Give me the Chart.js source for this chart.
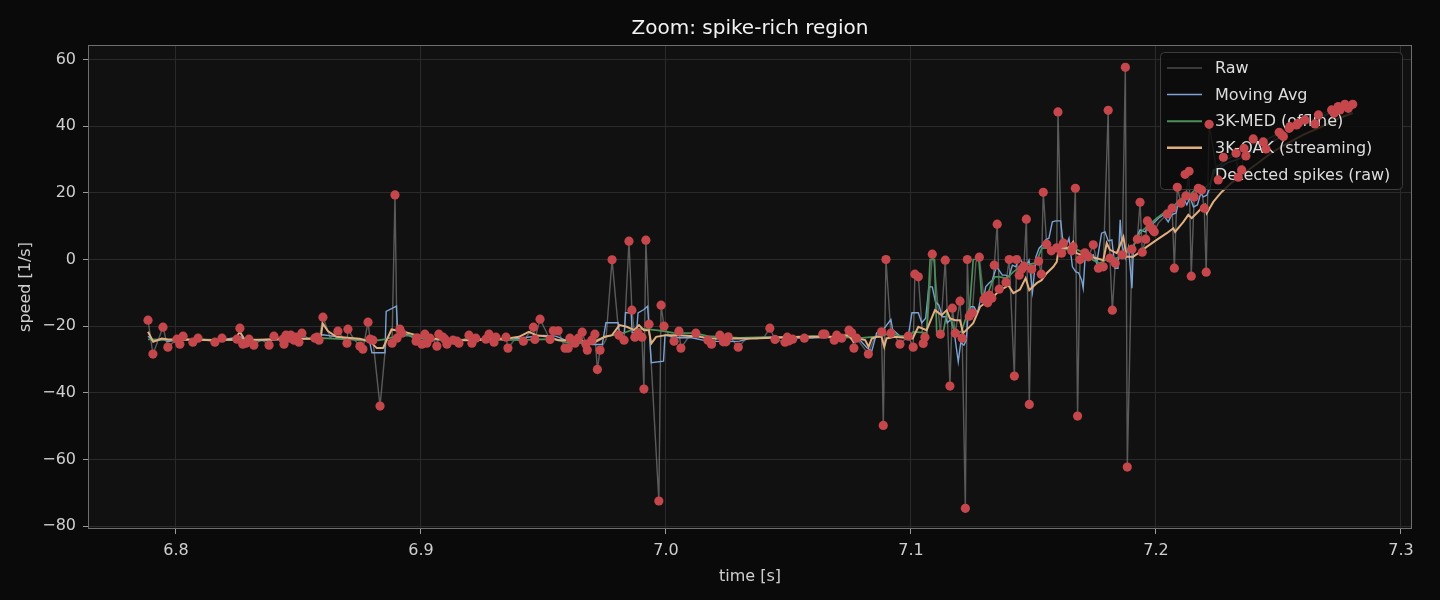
<!DOCTYPE html>
<html>
<head>
<meta charset="utf-8">
<script src="https://cdn.jsdelivr.net/npm/chart.js@4.4.1/dist/chart.umd.min.js"></script>
<style>
  html, body { margin: 0; padding: 0; background: #0a0a0a; }
  canvas { display: block; }
</style>
</head>
<body>
<canvas id="zoomChart" width="1440" height="600"></canvas>
<script>
// Zoom: spike-rich region

const xTicks = [6.8, 6.9, 7.0, 7.1, 7.2, 7.3];
const yTicks = [-80, -60, -40, -20, 0, 20, 40, 60];

// detected spikes (raw samples flagged) [time s, speed 1/s]
const spikePts = [
  [6.7886,-18.2],[6.7906,-28.4],[6.7947,-20.3],[6.7967,-26.3],[6.8004,-23.9],[6.8016,-25.4],[6.8029,-23.0],
  [6.8069,-24.8],[6.8090,-23.6],[6.8159,-24.8],[6.8188,-23.6],[6.8249,-23.9],[6.8261,-20.6],[6.8273,-25.4],
  [6.8286,-25.1],[6.8298,-23.9],[6.8318,-25.7],[6.8380,-25.7],[6.8400,-23.0],[6.8437,-23.9],[6.8441,-25.4],
  [6.8449,-22.7],[6.8461,-23.6],[6.8469,-22.7],[6.8482,-24.2],[6.8490,-23.3],[6.8502,-24.8],[6.8514,-22.1],
  [6.8567,-23.6],[6.8576,-23.3],[6.8584,-24.2],[6.8600,-17.3],[6.8661,-21.5],[6.8698,-25.1],[6.8702,-20.9],
  [6.8751,-26.0],[6.8763,-26.9],[6.8784,-18.8],[6.8792,-23.9],[6.8804,-24.2],[6.8833,-44.0],[6.8882,-25.1],
  [6.8894,19.4],[6.8902,-23.6],[6.8914,-20.9],[6.8922,-22.1],[6.8980,-24.5],[6.8984,-23.5],[6.9004,-25.4],
  [6.9016,-22.4],[6.9024,-25.1],[6.9037,-23.6],[6.9065,-26.0],[6.9073,-22.4],[6.9090,-23.3],[6.9098,-23.9],
  [6.9106,-25.4],[6.9131,-24.2],[6.9147,-24.5],[6.9155,-25.1],[6.9196,-22.7],[6.9208,-25.1],[6.9224,-23.6],
  [6.9265,-23.9],[6.9278,-22.4],[6.9298,-24.8],[6.9306,-23.3],[6.9347,-23.3],[6.9355,-26.6],
  [6.9418,-24.5],[6.9459,-20.3],[6.9465,-24.0],[6.9486,-17.9],[6.9527,-24.0],[6.9540,-21.4],[6.9560,-21.4],
  [6.9588,-26.6],[6.9601,-26.6],[6.9608,-23.6],[6.9629,-25.1],[6.9642,-23.6],[6.9658,-21.8],[6.9673,-25.4],
  [6.9679,-27.2],[6.9697,-24.2],[6.9710,-22.4],[6.9720,-33.0],[6.9731,-27.2],[6.9780,-0.1],[6.9808,-22.7],
  [6.9829,-24.2],[6.9849,5.5],[6.9861,-15.2],[6.9873,-23.3],[6.9886,-22.1],[6.9902,-23.3],[6.9910,-38.9],
  [6.9918,5.8],[6.9931,-19.4],[6.9971,-72.5],[6.9980,-13.7],[6.9992,-20.0],[7.0033,-24.5],[7.0053,-21.5],
  [7.0061,-26.6],[7.0122,-22.1],[7.0171,-24.2],
  [7.0186,-25.4],[7.0220,-22.7],[7.0234,-24.7],[7.0245,-24.7],[7.0254,-23.2],[7.0295,-26.3],[7.0424,-20.6],
  [7.0445,-24.0],[7.0486,-24.8],[7.0495,-23.3],[7.0503,-24.4],[7.0517,-23.9],[7.0565,-23.6],[7.0640,-22.4],
  [7.0649,-22.4],[7.0687,-24.2],[7.0697,-22.7],[7.0717,-23.6],[7.0747,-21.2],[7.0758,-22.0],[7.0767,-26.6],
  [7.0778,-23.6],[7.0826,-28.4],[7.0880,-21.7],[7.0887,-49.8],[7.0898,0.0],[7.0918,-22.1],[7.0955,-25.4],
  [7.0989,-23.0],[7.1009,-26.3],[7.1016,-4.4],[7.1030,-5.2],[7.1050,-25.2],[7.1057,-23.3],[7.1087,1.6],
  [7.1120,-22.4],[7.1140,-0.2],[7.1159,-38.0],[7.1169,-14.6],[7.1181,-22.1],[7.1200,-12.5],[7.1209,-23.6],
  [7.1222,-74.7],[7.1230,0.0],[7.1238,-17.0],[7.1250,-16.0],[7.1279,0.7],[7.1298,-11.9],[7.1306,-11.2],
  [7.1313,-13.0],[7.1320,-10.7],[7.1330,-11.6],[7.1340,-1.7],[7.1352,10.6],[7.1360,-8.9],[7.1388,-6.8],
  [7.1401,0.0],[7.1422,-35.0],[7.1431,0.0],[7.1442,-4.7],[7.1452,-2.9],[7.1461,-2.0],[7.1471,12.1],
  [7.1483,-43.5],[7.1493,-2.9],[7.1521,-0.5],[7.1532,-4.4],[7.1540,20.2],[7.1554,4.6],[7.1573,2.6],
  [7.1595,3.5],[7.1600,44.3],[7.1615,1.9],[7.1622,4.9],[7.1656,2.6],[7.1662,3.8],[7.1671,21.4],
  [7.1680,-47.0],[7.1690,0.0],
  [7.1710,2.0],[7.1724,0.8],[7.1744,4.4],[7.1765,-2.6],[7.1785,-2.2],[7.1805,44.8],[7.1812,0.4],
  [7.1822,-15.2],[7.1834,-1.1],[7.1862,1.4],[7.1875,57.7],[7.1883,-62.3],[7.1902,3.1],[7.1924,6.1],
  [7.1935,17.2],[7.1944,2.2],[7.1958,6.1],[7.1965,11.6],[7.1976,9.8],[7.1985,9.2],[7.1993,8.3],
  [7.2046,13.7],[7.2066,15.4],[7.2075,-2.6],[7.2087,21.7],[7.2102,16.9],[7.2122,19.1],[7.2135,26.5],
  [7.2144,-5.0],[7.2156,18.8],[7.2173,21.4],[7.2186,20.9],[7.2197,15.4],[7.2205,-3.8],[7.2217,40.6],
  [7.2254,23.9],[7.2275,30.7],[7.2327,31.9],[7.2336,24.7],[7.2350,26.9],[7.2359,33.4],[7.2367,31.1],
  [7.2397,36.2],[7.2438,35.3],[7.2449,33.2],[7.2503,38.2],[7.2513,37.4],[7.2520,36.9],[7.2544,39.4],
  [7.2547,39.9],[7.2574,40.4],[7.2581,40.9],[7.2608,41.9],[7.2649,40.7],[7.2663,43.4],[7.2717,44.9],
  [7.2727,43.9],[7.2744,45.9],[7.2751,44.9],[7.2771,46.6],[7.2785,45.4],[7.2803,46.6]
];

// raw samples that were not flagged
const rawBaseline = [
  [6.8120,-24.1],[6.8220,-24.0],[6.8350,-24.0],[6.8540,-23.8],[6.8630,-23.5],[6.8725,-23.8],[6.8858,-24.0],
  [6.8950,-22.5],[6.9050,-24.0],[6.9175,-24.0],[6.9245,-24.0],[6.9325,-23.8],[6.9385,-23.8],[6.9755,-24.0],
  [7.0010,-22.5],[7.0090,-23.5],[7.0145,-23.0],[7.0270,-24.0],[7.0330,-23.5],[7.0370,-23.8],[7.0400,-23.4],
  [7.0540,-23.4],[7.0600,-23.6],[7.0850,-23.5],[7.0935,-23.0],[7.1065,-22.0],[7.1095,-1.0],[7.1265,-0.8],
  [7.2010,11.0],[7.2030,12.5]
];

const movingAvg = [
  [6.7886,-23.0],[6.7906,-24.5],[6.7947,-24.0],[6.7967,-24.6],[6.8004,-24.2],[6.8030,-24.0],[6.8100,-24.2],
  [6.8200,-24.0],[6.8261,-23.2],[6.8290,-24.4],[6.8350,-24.3],[6.8440,-24.0],[6.8500,-23.8],[6.8560,-23.6],
  [6.8600,-22.6],[6.8640,-23.0],[6.8700,-23.8],[6.8760,-24.2],[6.8790,-24.5],[6.8800,-28.0],[6.8853,-28.0],
  [6.8858,-15.6],[6.8900,-14.0],[6.8905,-22.0],[6.8930,-22.3],[6.8980,-23.5],[6.9050,-24.0],[6.9150,-24.2],
  [6.9250,-23.8],[6.9350,-24.2],[6.9450,-23.2],[6.9500,-22.8],[6.9550,-23.0],[6.9600,-24.5],[6.9650,-25.0],
  [6.9700,-25.5],[6.9740,-25.5],[6.9755,-19.0],[6.9805,-19.0],[6.9810,-22.0],[6.9830,-22.0],[6.9835,-16.0],
  [6.9858,-16.0],[6.9862,-22.0],[6.9880,-22.0],[6.9886,-16.0],[6.9910,-15.0],[6.9925,-14.0],[6.9940,-31.0],
  [6.9990,-30.5],[6.9996,-22.7],[7.0050,-23.5],[7.0100,-23.4],[7.0170,-24.5],[7.0250,-24.6],[7.0300,-24.5],
  [7.0350,-23.6],[7.0450,-23.2],[7.0550,-23.6],[7.0650,-23.4],[7.0720,-23.4],[7.0760,-23.0],[7.0790,-24.0],
  [7.0820,-26.5],[7.0840,-27.5],[7.0860,-22.0],[7.0880,-21.7],[7.0918,-18.0],[7.0925,-21.0],[7.0955,-23.0],
  [7.0989,-23.0],[7.1004,-16.0],[7.1030,-16.0],[7.1044,-19.0],[7.1060,-17.6],[7.1073,-8.2],[7.1087,-8.2],
  [7.1100,-12.7],[7.1114,-13.7],[7.1128,-17.2],[7.1141,-17.2],[7.1148,-19.0],[7.1162,-18.0],[7.1175,-21.0],
  [7.1193,-30.7],[7.1203,-25.0],[7.1216,-25.7],[7.1226,-24.2],[7.1234,-15.7],[7.1244,-14.2],[7.1257,-14.2],
  [7.1271,-16.1],[7.1285,-11.6],[7.1298,-11.2],[7.1305,-8.2],[7.1318,-7.1],[7.1332,-6.2],[7.1349,-2.2],
  [7.1359,-3.2],[7.1373,-4.7],[7.1386,-4.7],[7.1400,-5.2],[7.1414,-1.7],[7.1428,-2.2],[7.1441,0.8],
  [7.1455,-1.1],[7.1469,-2.2],[7.1482,-0.2],[7.1496,-9.7],[7.1510,0.8],[7.1523,3.4],[7.1537,4.4],
  [7.1550,5.9],[7.1563,6.4],[7.1577,11.3],[7.1591,11.6],[7.1611,11.6],[7.1618,6.8],[7.1632,3.8],
  [7.1645,6.4],[7.1659,-2.2],[7.1673,-3.7],[7.1684,-4.0],[7.1697,-6.2],[7.1703,-8.6],[7.1710,-0.2],
  [7.1744,1.4],[7.1758,-1.1],[7.1778,7.9],[7.1792,8.3],[7.1805,5.6],[7.1820,5.9],[7.1833,-2.6],
  [7.1845,-2.6],[7.1854,11.9],[7.1860,4.9],[7.1875,0.4],[7.1888,3.8],[7.1902,-8.6],[7.1908,3.8],
  [7.1922,6.8],[7.1935,8.9],[7.1956,8.3],[7.1969,10.4],[7.1990,10.9],[7.2010,12.4],[7.2030,13.4],
  [7.2050,11.3],[7.2064,13.4],[7.2082,14.0],[7.2091,16.9],[7.2112,18.4],[7.2126,16.4],[7.2139,18.8],
  [7.2153,15.8],[7.2169,16.4],[7.2183,19.9],[7.2193,18.8],[7.2207,19.3],[7.2220,21.4],[7.2234,26.9],
  [7.2260,27.5],[7.2290,29.0],[7.2330,30.0],[7.2370,31.0],[7.2400,33.0],[7.2440,34.5],[7.2480,35.5],
  [7.2520,37.5],[7.2560,39.0],[7.2600,40.5],[7.2650,41.5],[7.2700,43.5],[7.2750,45.0],[7.2803,46.0]
];

const med3k = [
  [6.7886,-24.0],[6.7906,-24.0],[6.8000,-24.3],[6.8100,-24.0],[6.8200,-24.2],[6.8300,-24.2],[6.8400,-24.0],
  [6.8500,-23.8],[6.8600,-23.6],[6.8700,-24.0],[6.8800,-24.5],[6.8850,-24.0],[6.8900,-23.0],[6.8950,-22.8],
  [6.9000,-23.5],[6.9100,-24.3],[6.9200,-24.0],[6.9300,-24.0],[6.9400,-24.2],[6.9500,-24.0],[6.9550,-24.0],
  [6.9600,-25.0],[6.9650,-25.0],[6.9700,-24.5],[6.9760,-23.1],[6.9830,-22.0],[6.9870,-20.9],[6.9920,-20.9],
  [6.9960,-21.2],[6.9990,-21.5],[7.0030,-22.0],[7.0120,-22.1],[7.0170,-23.0],[7.0300,-23.5],[7.0400,-23.3],
  [7.0500,-23.5],[7.0600,-23.0],[7.0700,-23.3],[7.0800,-23.5],[7.0880,-23.0],[7.0918,-22.0],[7.0955,-23.0],
  [7.0989,-23.2],[7.1009,-21.7],[7.1064,-22.0],[7.1078,0.0],[7.1096,0.0],[7.1105,-21.7],[7.1132,-21.7],
  [7.1146,-16.1],[7.1165,-18.2],[7.1178,-21.7],[7.1205,-21.7],[7.1226,-17.2],[7.1240,-14.2],[7.1254,0.0],
  [7.1277,0.0],[7.1288,-10.1],[7.1301,-12.2],[7.1315,-10.1],[7.1329,-7.1],[7.1342,-5.2],[7.1363,-5.2],
  [7.1383,-5.6],[7.1397,-5.2],[7.1418,-3.7],[7.1438,-2.6],[7.1465,-1.7],[7.1506,-1.1],[7.1520,0.8],
  [7.1534,3.4],[7.1561,3.4],[7.1588,3.4],[7.1609,3.4],[7.1629,2.9],[7.1656,3.4],[7.1680,2.9],
  [7.1710,1.9],[7.1744,-0.2],[7.1771,-1.1],[7.1798,0.0],[7.1839,0.4],[7.1873,2.0],[7.1907,3.8],
  [7.1922,6.8],[7.1948,8.9],[7.1976,10.7],[7.2003,12.4],[7.2030,13.9],[7.2057,14.9],[7.2084,16.9],
  [7.2112,18.8],[7.2139,19.4],[7.2166,21.4],[7.2193,20.9],[7.2220,22.9],[7.2248,27.8],[7.2290,30.0],
  [7.2340,32.0],[7.2390,34.5],[7.2440,35.5],[7.2490,37.5],[7.2540,39.5],[7.2600,41.0],[7.2660,42.5],
  [7.2720,44.5],[7.2780,45.5],[7.2803,46.0]
];

const oak3k = [
  [6.7886,-21.7],[6.7907,-24.7],[6.7942,-23.7],[6.7970,-24.0],[6.8050,-24.0],[6.8150,-24.2],[6.8240,-24.0],
  [6.8261,-21.7],[6.8280,-24.0],[6.8350,-24.1],[6.8450,-23.8],[6.8550,-23.8],[6.8590,-24.0],[6.8599,-19.2],
  [6.8620,-21.5],[6.8655,-23.2],[6.8700,-23.5],[6.8750,-23.8],[6.8790,-24.5],[6.8820,-26.6],[6.8845,-26.6],
  [6.8880,-21.0],[6.8930,-21.7],[6.8980,-22.7],[6.9050,-23.7],[6.9120,-24.2],[6.9200,-24.2],[6.9280,-24.0],
  [6.9360,-23.6],[6.9400,-23.2],[6.9440,-21.7],[6.9470,-22.7],[6.9520,-23.2],[6.9560,-24.2],[6.9590,-24.2],
  [6.9640,-23.2],[6.9670,-25.2],[6.9700,-25.2],[6.9750,-23.2],[6.9780,-22.7],[6.9810,-19.7],[6.9840,-20.2],
  [6.9870,-21.2],[6.9890,-19.7],[6.9910,-21.2],[6.9930,-21.2],[6.9940,-25.2],[6.9960,-23.2],[7.0000,-22.7],
  [7.0050,-22.7],[7.0120,-23.0],[7.0180,-23.7],[7.0350,-23.7],[7.0550,-23.2],[7.0690,-23.2],[7.0745,-22.7],
  [7.0766,-24.7],[7.0786,-23.7],[7.0813,-24.2],[7.0827,-26.2],[7.0840,-23.7],[7.0861,-23.2],[7.0880,-23.2],
  [7.0891,-26.2],[7.0900,-23.7],[7.0934,-23.2],[7.1007,-23.7],[7.1030,-20.2],[7.1064,-21.2],[7.1098,-15.2],
  [7.1125,-16.7],[7.1146,-15.2],[7.1159,-17.7],[7.1180,-18.2],[7.1200,-18.2],[7.1213,-22.1],[7.1234,-20.6],
  [7.1254,-19.1],[7.1282,-14.2],[7.1309,-12.7],[7.1336,-11.2],[7.1363,-9.2],[7.1388,-8.2],[7.1397,-7.7],
  [7.1418,-10.1],[7.1445,-9.0],[7.1468,-5.6],[7.1483,-9.2],[7.1513,-7.1],[7.1533,-6.2],[7.1554,-4.1],
  [7.1581,-2.2],[7.1595,-0.7],[7.1601,2.3],[7.1622,3.5],[7.1642,3.4],[7.1662,5.3],[7.1676,1.9],
  [7.1697,1.4],[7.1731,0.8],[7.1758,0.4],[7.1785,-0.2],[7.1799,4.9],[7.1812,2.9],[7.1840,1.9],
  [7.1867,6.8],[7.1880,0.8],[7.1907,0.8],[7.1935,2.3],[7.1962,3.8],[7.2003,5.9],[7.2044,7.9],
  [7.2071,9.4],[7.2078,8.3],[7.2112,11.3],[7.2132,13.4],[7.2146,12.4],[7.2166,13.9],[7.2200,16.4],
  [7.2207,13.9],[7.2234,17.3],[7.2268,20.3],[7.2306,22.9],[7.2360,25.9],[7.2415,28.9],[7.2469,31.9],
  [7.2537,34.9],[7.2600,37.4],[7.2680,40.0],[7.2750,42.5],[7.2803,44.0]
];

const seriesNames = ['Raw', 'Moving Avg', '3K-MED (offline)', '3K-OAK (streaming)', 'Detected spikes (raw)'];

const COLORS = {
    raw: 'rgba(140, 140, 140, 0.6)',
    ma: '#7ca3d4',
    med: '#4a9159',
    oak: '#e0ae80',
    spike: '#c5474b',
    text: '#cfcfcf',
    grid: '#2a2a2a',
    frame: '#6e6e6e'
};

const toXY = arr => arr.map(p => ({ x: p[0], y: p[1] }));

// raw line = flagged + unflagged samples, in time order
const rawSeries = spikePts.concat(rawBaseline).sort((a, b) => a[0] - b[0]);

// background of the plot area + frame
const plotFrame = {
    id: 'plotFrame',
    beforeDraw(chart) {
        const { ctx, chartArea: a } = chart;
        ctx.save();
        ctx.fillStyle = '#0a0a0a';
        ctx.fillRect(0, 0, chart.width, chart.height);
        ctx.fillStyle = '#111111';
        ctx.fillRect(a.left, a.top, a.right - a.left, a.bottom - a.top);
        ctx.restore();
    },
    afterDraw(chart) {
        const { ctx, chartArea: a } = chart;
        ctx.save();
        ctx.strokeStyle = COLORS.frame;
        ctx.lineWidth = 1;
        ctx.strokeRect(a.left + 0.5, a.top + 0.5, a.right - a.left - 1, a.bottom - a.top - 1);
        ctx.restore();
    }
};

// legend sits over the lines but under the spike markers
const boxLegend = {
    id: 'boxLegend',
    afterDatasetDraw(chart, args) {
        if (args.index !== 1) return;
        const { ctx, chartArea: a } = chart;
        const x0 = a.right - 252, y0 = a.top + 7, w = 242, h = 137;
        ctx.save();
        ctx.beginPath();
        ctx.roundRect(x0 + 0.5, y0 + 0.5, w, h, 4);
        ctx.fillStyle = 'rgba(11, 11, 11, 0.82)';
        ctx.fill();
        ctx.strokeStyle = '#3c3c3c';
        ctx.lineWidth = 1;
        ctx.stroke();
        const handles = [
            { color: '#4a4a4a', width: 1.5 },
            { color: COLORS.ma, width: 1.5 },
            { color: COLORS.med, width: 2 },
            { color: COLORS.oak, width: 2.5 },
            { dot: true }
        ];
        ctx.font = '16px "DejaVu Sans"';
        ctx.textBaseline = 'middle';
        seriesNames.forEach((name, i) => {
            const y = y0 + 16 + i * 26.6;
            const hd = handles[i];
            if (hd.dot) {
                ctx.beginPath();
                ctx.arc(x0 + 25, y, 4.5, 0, Math.PI * 2);
                ctx.fillStyle = COLORS.spike;
                ctx.fill();
            } else {
                ctx.beginPath();
                ctx.moveTo(x0 + 7, y);
                ctx.lineTo(x0 + 42, y);
                ctx.strokeStyle = hd.color;
                ctx.lineWidth = hd.width;
                ctx.stroke();
            }
            ctx.fillStyle = '#dddddd';
            ctx.fillText(name, x0 + 55, y + 1);
        });
        ctx.restore();
    }
};

const ctx = document.getElementById('zoomChart').getContext('2d');

new Chart(ctx, {
    type: 'scatter',
    data: {
        datasets: [
            {
                label: seriesNames[4],
                data: toXY(spikePts),
                showLine: false,
                pointRadius: 4.6,
                pointBorderWidth: 0,
                pointBackgroundColor: COLORS.spike,
                order: 0
            },
            {
                label: seriesNames[3],
                data: toXY(oak3k),
                showLine: true,
                borderColor: COLORS.oak,
                borderWidth: 2,
                pointRadius: 0,
                order: 1
            },
            {
                label: seriesNames[2],
                data: toXY(med3k),
                showLine: true,
                borderColor: COLORS.med,
                borderWidth: 1.7,
                pointRadius: 0,
                order: 2
            },
            {
                label: seriesNames[1],
                data: toXY(movingAvg),
                showLine: true,
                borderColor: COLORS.ma,
                borderWidth: 1.4,
                pointRadius: 0,
                order: 3
            },
            {
                label: seriesNames[0],
                data: toXY(rawSeries),
                showLine: true,
                borderColor: COLORS.raw,
                borderWidth: 1.4,
                pointRadius: 0,
                order: 4
            }
        ]
    },
    plugins: [plotFrame, boxLegend],
    options: {
        responsive: false,
        animation: false,
        devicePixelRatio: 1,
        layout: { padding: { left: 0, right: 28, top: 0, bottom: 0 } },
        plugins: {
            legend: { display: false },
            tooltip: { enabled: false },
            title: {
                display: true,
                fullSize: false,
                text: 'Zoom: spike-rich region',
                color: '#f2f2f2',
                font: { family: 'DejaVu Sans', size: 20, weight: 'normal', lineHeight: 1.2 },
                padding: { top: 17, bottom: 4 }
            }
        },
        scales: {
            x: {
                type: 'linear',
                min: 6.7641,
                max: 7.3045,
                afterBuildTicks: s => { s.ticks = xTicks.map(v => ({ value: v })); },
                afterFit: s => { s.height = 71; },
                ticks: {
                    color: COLORS.text,
                    font: { family: 'DejaVu Sans', size: 16 },
                    padding: 7,
                    maxRotation: 0,
                    callback: v => v.toFixed(1)
                },
                grid: { color: COLORS.grid, lineWidth: 1, tickLength: 5, tickColor: '#9a9a9a' },
                border: { display: false },
                title: {
                    display: true,
                    text: 'time [s]',
                    color: COLORS.text,
                    font: { family: 'DejaVu Sans', size: 16 },
                    padding: { top: 0, bottom: 14 }
                }
            },
            y: {
                type: 'linear',
                min: -80.9,
                max: 64.4,
                afterBuildTicks: s => { s.ticks = yTicks.map(v => ({ value: v })); },
                afterFit: s => { s.width = 88; },
                ticks: {
                    color: COLORS.text,
                    font: { family: 'DejaVu Sans', size: 16 },
                    padding: 7,
                    callback: v => (v < 0 ? '\u2212' : '') + Math.abs(v)
                },
                grid: { color: COLORS.grid, lineWidth: 1, tickLength: 5, tickColor: '#9a9a9a' },
                border: { display: false },
                title: {
                    display: true,
                    text: 'speed [1/s]',
                    color: COLORS.text,
                    font: { family: 'DejaVu Sans', size: 16 },
                    padding: { top: 16, bottom: 0 }
                }
            }
        }
    }
});
</script>
</body>
</html>
